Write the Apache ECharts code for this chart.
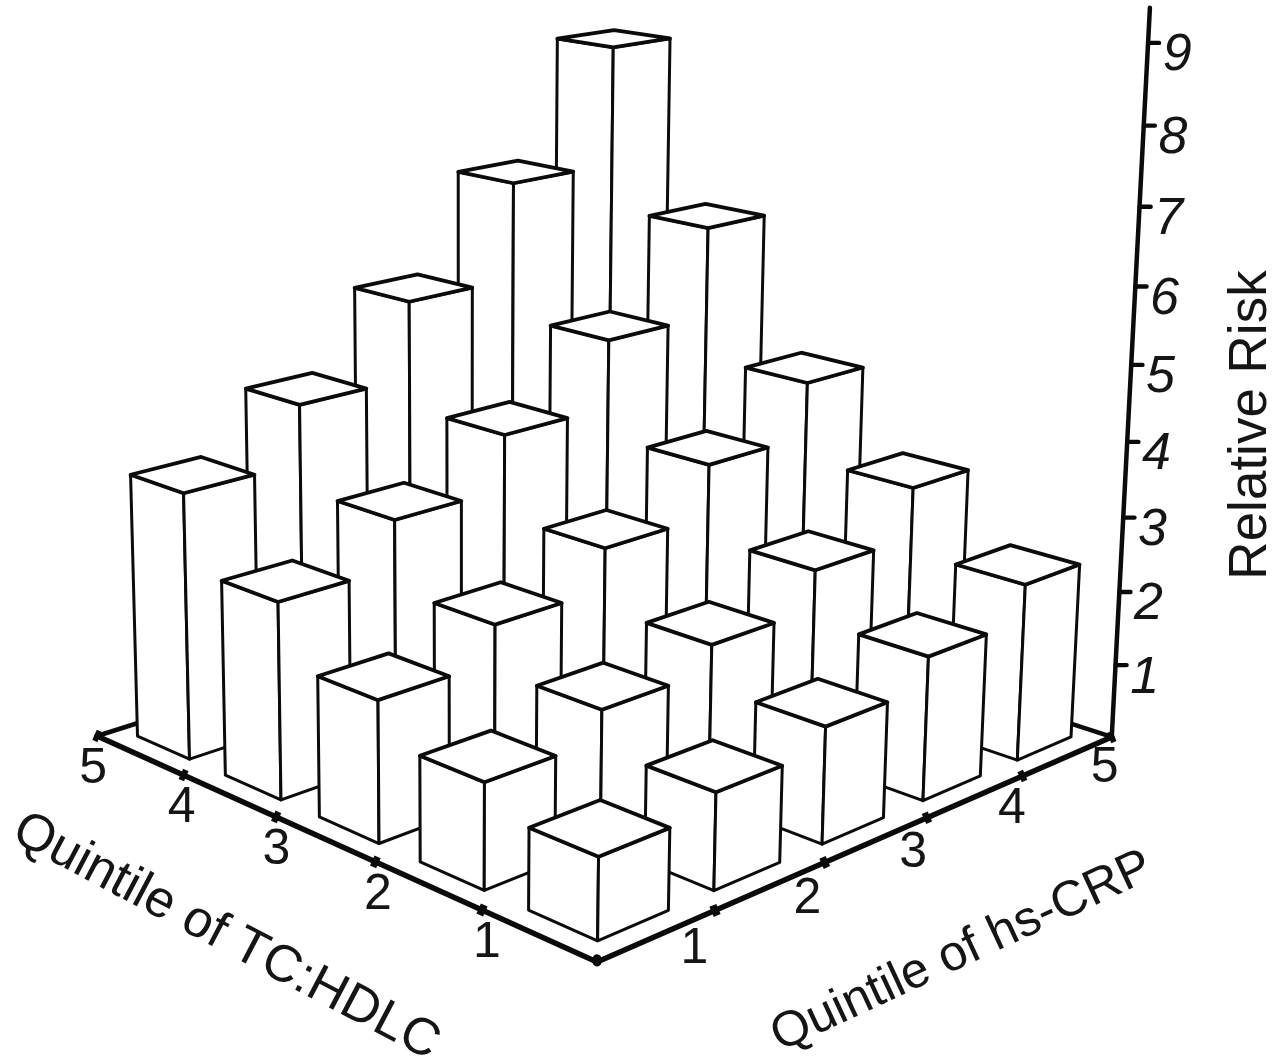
<!DOCTYPE html>
<html>
<head>
<meta charset="utf-8">
<style>html,body{margin:0;padding:0;background:#fff}#chart{width:1287px;height:1064px}</style>
<script src="https://cdn.jsdelivr.net/npm/echarts@6/dist/echarts.min.js"></script>
</head>
<body>
<div id="chart"></div>
<script>
// Relative risk, one array per TC:HDLC quintile, values for hs-CRP quintile 1..5
var tcHdlcQ1 = [1.02, 1.23, 1.51, 1.90, 2.37];
var tcHdlcQ2 = [1.35, 1.72, 2.05, 2.56, 3.23];
var tcHdlcQ3 = [1.84, 2.31, 2.85, 3.54, 4.27];
var tcHdlcQ4 = [2.60, 3.22, 3.94, 4.85, 6.06];
var tcHdlcQ5 = [3.57, 4.34, 5.37, 6.67, 8.27];
var quintileTicks = [1, 2, 3, 4, 5];
var riskTicks = [1, 2, 3, 4, 5, 6, 7, 8, 9];
var xName = 'Quintile of TC:HDLC';
var yName = 'Quintile of hs-CRP';
var zName = 'Relative Risk';

var rows = [tcHdlcQ1, tcHdlcQ2, tcHdlcQ3, tcHdlcQ4, tcHdlcQ5];
var barData = [];
for (var i = rows.length; i >= 1; i--) {
  for (var j = rows[i - 1].length; j >= 1; j--) {
    barData.push([i, j, rows[i - 1][j - 1]]);
  }
}

// Perspective view of (u: TC:HDLC, v: hs-CRP, h: risk) onto the hidden plane axes.
function view(u, v, h) {
  var base = 1 + 0.039 * u + 0.038 * v;
  return [
    (597 - 96.2 * u + 145.2 * v - 3.23 * h) / (base - 0.007 * h),
    (962 - 16.5 * u - 17 * v - 92.2 * h) / (base - 0.01 * h)
  ];
}
var INK = '#0b0b0b';
var FONT = '"Liberation Sans", Arial, sans-serif';

function renderBar(params, api) {
  var i = api.value(0), j = api.value(1), h = api.value(2);
  var u0 = i - 0.8, u1 = i - 0.2, v0 = j - 0.8, v1 = j - 0.2;
  function p(u, v, z) { return api.coord(view(u, v, z)); }
  var st = { fill: '#fff', stroke: INK, lineWidth: 3, lineJoin: 'round' };
  var topSt = { fill: '#fff', stroke: INK, lineWidth: 3.8, lineJoin: 'round' };
  return {
    type: 'group',
    children: [
      { type: 'polygon', shape: { points: [p(u0, v0, 0), p(u1, v0, 0), p(u1, v0, h), p(u0, v0, h)] }, style: st },
      { type: 'polygon', shape: { points: [p(u0, v0, 0), p(u0, v1, 0), p(u0, v1, h), p(u0, v0, h)] }, style: st },
      { type: 'polygon', shape: { points: [p(u0, v0, h), p(u1, v0, h), p(u1, v1, h), p(u0, v1, h)] }, style: topSt }
    ]
  };
}

function line(a, b, w, cap) {
  return { type: 'line', shape: { x1: a[0], y1: a[1], x2: b[0], y2: b[1] }, style: { stroke: INK, lineWidth: w, lineCap: cap || 'round' } };
}
function label(text, at, size, rot, italic) {
  return {
    type: 'text', x: at[0], y: at[1], rotation: rot || 0,
    style: { text: String(text), fill: '#151515', align: 'center', verticalAlign: 'middle',
      font: (italic ? 'italic ' : '') + size + 'px ' + FONT }
  };
}

function renderFloor(params, api) {
  function p(u, v, z) { return api.coord(view(u, v, z || 0)); }
  return { type: 'group', children: [
    line(p(5, 0), p(5, 5), 4.5),
    line(p(0, 5), p(5, 5), 4.5)
  ] };
}

function renderAxes(params, api) {
  function p(u, v, z) { return api.coord(view(u, v, z || 0)); }
  var c = [
    line(p(0, 0), p(5, 0), 5.5),
    line(p(0, 0), p(0, 5), 5.5),
    line(p(0, 5), p(0, 5, 9.42), 4.5),
    line(p(0.03, 0.03), p(0, 0), 9)
  ];
  quintileTicks.forEach(function (k) {
    var a = p(k, 0), b = p(0, k);
    c.push(line(p(k - 0.03, 0), p(k + 0.03, 0), 11, 'butt'));
    c.push(line(p(0, k - 0.03), p(0, k + 0.03), 11, 'butt'));
    c.push(label(k, [a[0] - 4 + (5 - k) * 2.2, a[1] + 33], 50));
    c.push(label(k, [b[0] - 24 + k * 3.4, b[1] + 41 - 2 * k], 50));
  });
  riskTicks.forEach(function (t) {
    var a = p(0, 5, t);
    c.push(line(a, [a[0] + 11, a[1]], 4.4));
    c.push(label(t, [a[0] + 29, a[1] + 13], 52, 0, true));
  });
  c.push(label(xName, api.coord([226, 937]), 52, -0.485));
  c.push(label(yName, api.coord([962, 952]), 50, 0.435));
  c.push(label(zName, api.coord([1251, 425]), 53, Math.PI / 2));
  return { type: 'group', children: c };
}

var chart = echarts.init(document.getElementById('chart'), null, { renderer: 'canvas' });
chart.setOption({
  animation: false,
  backgroundColor: '#ffffff',
  grid: { left: 0, right: 0, top: 0, bottom: 0 },
  xAxis: { type: 'value', min: 0, max: 1287, show: false },
  yAxis: { type: 'value', min: 0, max: 1064, inverse: true, show: false },
  tooltip: { show: false },
  series: [
    { type: 'custom', silent: true, clip: false, z: 1, renderItem: renderFloor, data: [[0]] },
    { type: 'custom', silent: true, clip: false, z: 2, renderItem: renderBar, data: barData, encode: { x: 0, y: 1 } },
    { type: 'custom', silent: true, clip: false, z: 3, renderItem: renderAxes, data: [[0]] }
  ]
});
</script>
</body>
</html>
